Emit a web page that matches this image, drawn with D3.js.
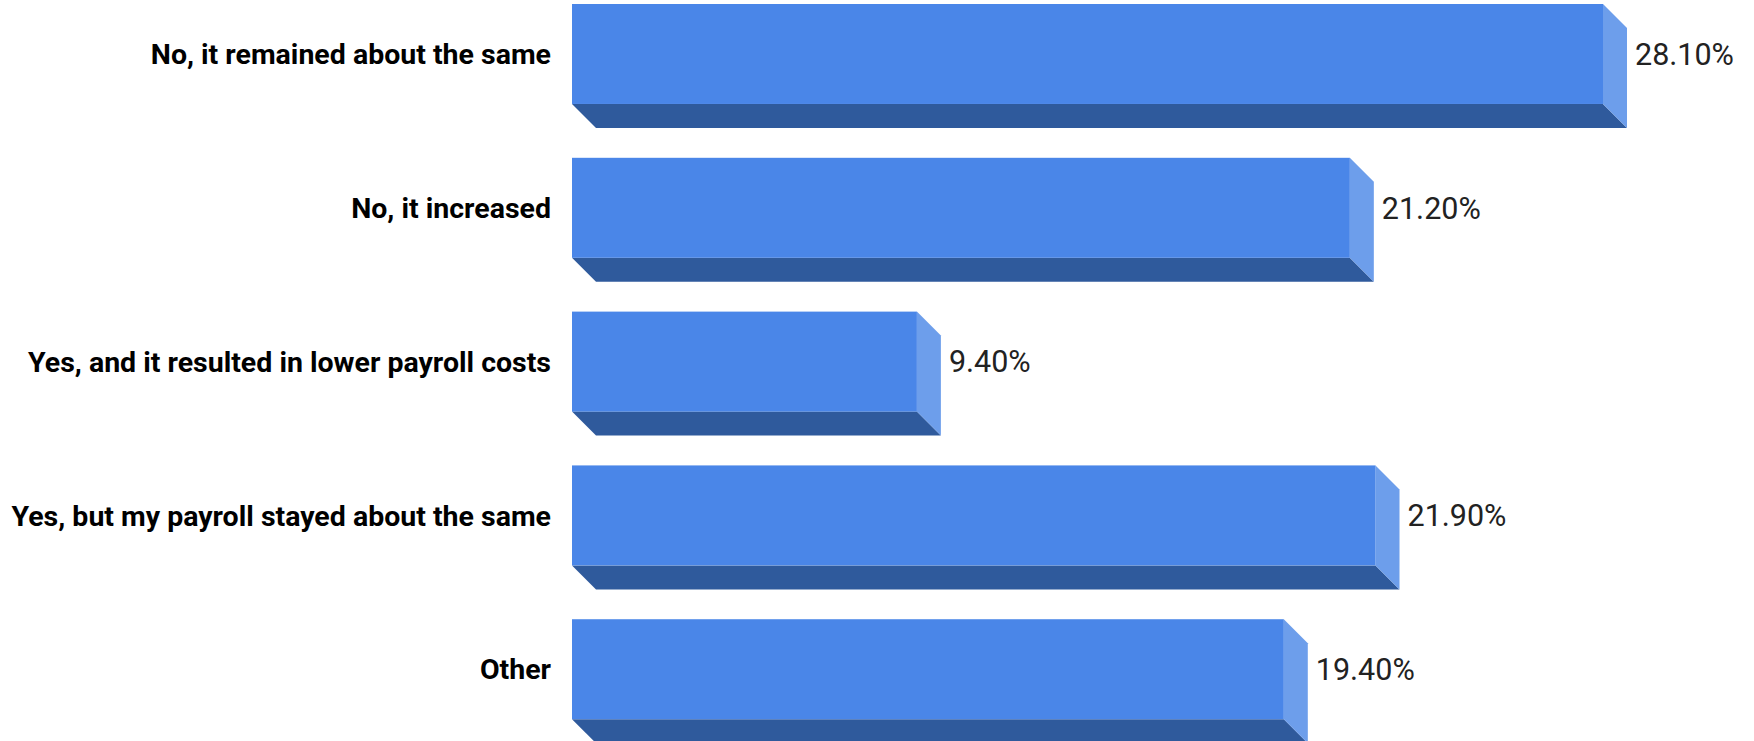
<!DOCTYPE html>
<html>
<head>
<meta charset="utf-8">
<script src="https://cdn.jsdelivr.net/npm/d3@7"></script>
<style>
  html, body { margin: 0; padding: 0; background: #ffffff; }
  svg { display: block; }
</style>
</head>
<body>
<svg id="chart" width="1754" height="741"></svg>
<script>
// Survey responses and their shares (percent)
const categories = [
  "No, it remained about the same",
  "No, it increased",
  "Yes, and it resulted in lower payroll costs",
  "Yes, but my payroll stayed about the same",
  "Other"
];
const values = [28.10, 21.20, 9.40, 21.90, 19.40];

const W = 1754, H = 741;
const svg = d3.select("#chart");

const x0 = 572;           // left edge of the bar fronts
const depth = 24;         // extrusion of the 3D bars
const x = d3.scaleLinear().domain([0, 28.10]).range([x0, 1603]);
const y = d3.scaleBand()
  .domain(categories)
  .range([4, 719.2])
  .paddingInner(0.35)
  .paddingOuter(0);

const colors = { front: "#4a86e8", side: "#6d9eeb", bottom: "#2f5a9c" };

const rows = categories.map((c, i) => ({ cat: c, val: values[i] }));

const g = svg.append("g");

const bar = g.selectAll("g.bar").data(rows).enter().append("g").attr("class", "bar");

// bottom face
bar.append("path")
  .attr("fill", colors.bottom)
  .attr("d", d => {
    const xl = x(0), xr = x(d.val), yb = y(d.cat) + y.bandwidth();
    return `M${xl},${yb}L${xr},${yb}L${xr + depth},${yb + depth}L${xl + depth},${yb + depth}Z`;
  });

// right side face
bar.append("path")
  .attr("fill", colors.side)
  .attr("d", d => {
    const xr = x(d.val), yt = y(d.cat), yb = yt + y.bandwidth();
    return `M${xr},${yt}L${xr + depth},${yt + depth}L${xr + depth},${yb + depth}L${xr},${yb}Z`;
  });

// front face
bar.append("rect")
  .attr("fill", colors.front)
  .attr("x", x(0))
  .attr("y", d => y(d.cat))
  .attr("width", d => x(d.val) - x(0))
  .attr("height", y.bandwidth());

// value labels
bar.append("text")
  .attr("x", d => x(d.val) + depth + 8)
  .attr("y", d => y(d.cat) + y.bandwidth() / 2)
  .attr("dy", "0.355em")
  .attr("font-family", "Roboto, sans-serif")
  .attr("font-size", 30.5)
  .attr("fill", "#222222")
  .text(d => d.val.toFixed(2) + "%");

// category labels
const yAxis = d3.axisLeft(y).tickSize(0).tickPadding(0);
const ax = svg.append("g")
  .attr("transform", `translate(${x0 - 21},0)`)
  .call(yAxis);
ax.select(".domain").remove();
ax.selectAll("text")
  .attr("font-family", "Roboto, sans-serif")
  .attr("font-weight", "bold")
  .attr("font-size", 28.5)
  .attr("fill", "#000000")
  .attr("dy", "0.355em");
</script>
</body>
</html>
